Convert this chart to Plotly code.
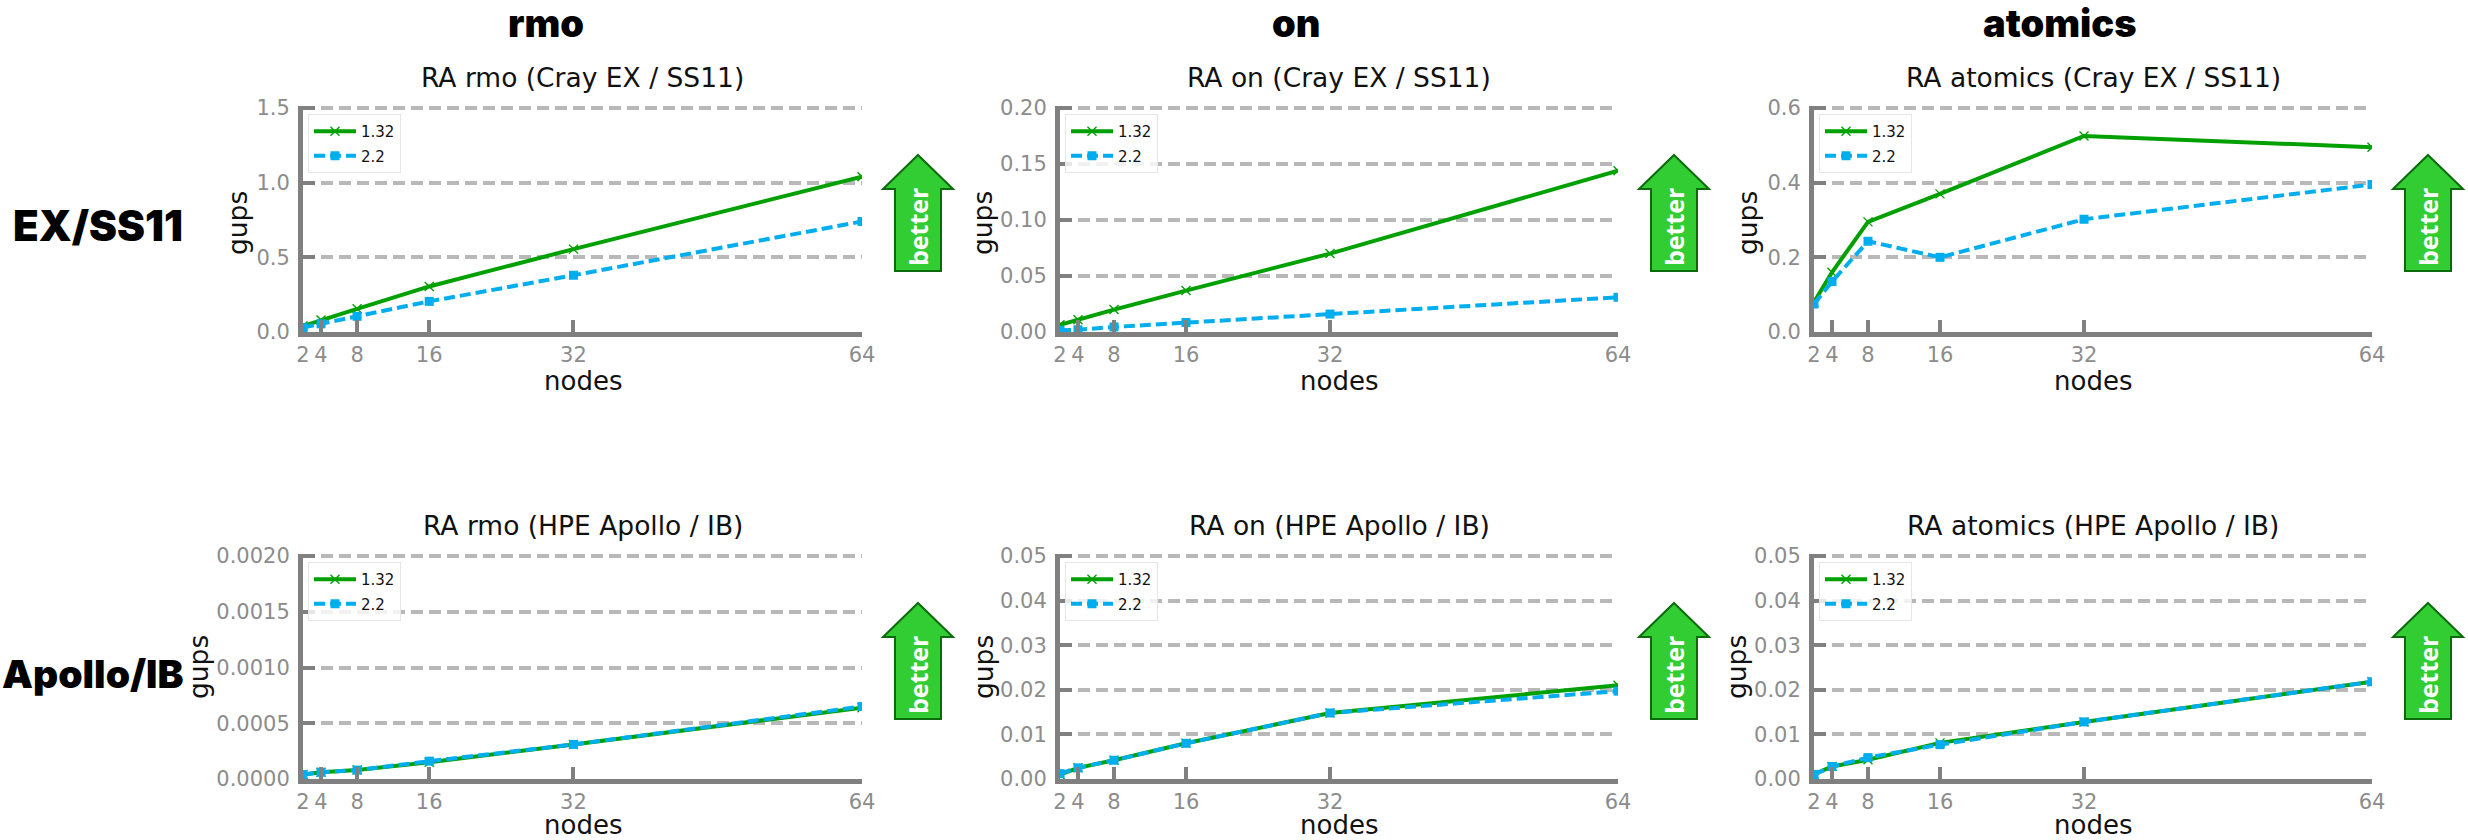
import plotly.graph_objects as go

W, H = 2468, 840
nodes = [2, 4, 8, 16, 32, 64]
version_a = "1.32"
version_b = "2.2"

ex_rmo_a = [0.04, 0.08, 0.155, 0.305, 0.555, 1.04]
ex_rmo_b = [0.03, 0.055, 0.105, 0.205, 0.38, 0.74]
ex_on_a = [0.0065, 0.011, 0.020, 0.037, 0.070, 0.144]
ex_on_b = [0.0015, 0.002, 0.0045, 0.0085, 0.016, 0.031]
ex_at_a = [0.08, 0.16, 0.295, 0.37, 0.525, 0.495]
ex_at_b = [0.075, 0.135, 0.243, 0.20, 0.302, 0.395]
ap_rmo_a = [0.00004, 0.00006, 0.00008, 0.00015, 0.00031, 0.00064]
ap_rmo_b = [0.00004, 0.00006, 0.00008, 0.00016, 0.00031, 0.00065]
ap_on_a = [0.001, 0.0025, 0.0042, 0.008, 0.0148, 0.021]
ap_on_b = [0.0012, 0.0025, 0.0042, 0.008, 0.0148, 0.0197]
ap_at_a = [0.001, 0.0028, 0.0043, 0.0081, 0.0128, 0.0218]
ap_at_b = [0.001, 0.0028, 0.0048, 0.0077, 0.0128, 0.0218]

titles = ["RA rmo (Cray EX / SS11)", "RA on (Cray EX / SS11)", "RA atomics (Cray EX / SS11)",
          "RA rmo (HPE Apollo / IB)", "RA on (HPE Apollo / IB)", "RA atomics (HPE Apollo / IB)"]
series = [(ex_rmo_a, ex_rmo_b), (ex_on_a, ex_on_b), (ex_at_a, ex_at_b),
          (ap_rmo_a, ap_rmo_b), (ap_on_a, ap_on_b), (ap_at_a, ap_at_b)]
yticks = [[0, 0.5, 1.0, 1.5], [0, 0.05, 0.10, 0.15, 0.20], [0, 0.2, 0.4, 0.6],
          [0, 0.0005, 0.0010, 0.0015, 0.0020], [0, 0.01, 0.02, 0.03, 0.04, 0.05], [0, 0.01, 0.02, 0.03, 0.04, 0.05]]
yfmt = [".1f", ".2f", ".1f", ".4f", ".2f", ".2f"]
col_heads = ["rmo", "on", "atomics"]
row_heads = ["EX/SS11", "Apollo/IB"]

# layout, pixels
col_l = [303, 1060, 1814]
col_r = [862, 1618, 2372]
row_t = [108, 556]
row_b = [332, 779]
gups_x = [238, 983, 1748, 198, 983, 1736]
gups_y = [223, 667]
nodes_y = [381, 824.5]
EXTRA = 2  # px of headroom so the top gridline is not dropped at the range edge

GREEN = "#00A000"
BLUE = "#00AEEF"
GREY = "#808080"
FONT = "DejaVu Sans"
HEAVY = "Inter"

px = lambda v: v / W
py = lambda v: 1 - v / H

fig = go.Figure()
annotations, shapes = [], []
layout = {}


def label(text, x, y, size, family=FONT, color="#111111", angle=0, weight=None):
    font = dict(family=family, size=size, color=color)
    if weight:
        font["weight"] = weight
    annotations.append(dict(
        text=text, xref="paper", yref="paper", x=x, y=y, textangle=angle,
        xanchor="center", yanchor="middle", showarrow=False, font=font,
    ))


for i in range(6):
    r, c = i // 3, i % 3
    n = "" if i == 0 else str(i + 1)
    a, b = series[i]
    fig.add_trace(go.Scatter(
        x=nodes, y=a, name=version_a, xaxis="x" + n, yaxis="y" + n, legend="legend" + n,
        legendgroup="a", mode="lines+markers",
        line=dict(color=GREEN, width=4),
        marker=dict(symbol="x-thin", size=9, color=GREEN, line=dict(color=GREEN, width=1.4)),
    ))
    fig.add_trace(go.Scatter(
        x=nodes, y=b, name=version_b, xaxis="x" + n, yaxis="y" + n, legend="legend" + n,
        legendgroup="b", mode="lines+markers",
        line=dict(color=BLUE, width=4, dash="11px,5px"),
        marker=dict(symbol="square", size=9, color=BLUE),
    ))
    layout["xaxis" + n] = dict(
        domain=[px(col_l[c]), px(col_r[c])], anchor="y" + n, range=[2, 64], automargin=False,
        tickmode="array", tickvals=nodes, ticktext=[str(v) for v in nodes], tickangle=0,
        ticks="inside", ticklen=12, tickwidth=4, tickcolor=GREY,
        showline=True, linewidth=5, linecolor=GREY, showgrid=False, zeroline=False,
        tickfont=dict(family=FONT, size=21, color="#8C8C8C"),
    )
    h = row_b[r] - row_t[r]
    layout["yaxis" + n] = dict(
        domain=[py(row_b[r]), py(row_t[r] - EXTRA)], anchor="x" + n, automargin=False,
        range=[0, yticks[i][-1] * (h + EXTRA) / h],
        tickmode="array", tickvals=yticks[i], tickformat=yfmt[i],
        ticks="inside", ticklen=12, tickwidth=4, tickcolor=GREY,
        showline=True, linewidth=5, linecolor=GREY,
        showgrid=True, gridcolor="#B8B8B8", gridwidth=4, griddash="12px,6px", zeroline=False,
        tickfont=dict(family=FONT, size=21, color="#8C8C8C"),
        ticklabelstandoff=4,
    )
    layout["legend" + n] = dict(
        x=px(col_l[c] + 5), y=py(row_t[r] + 6), xanchor="left", yanchor="top",
        bgcolor="rgba(255,255,255,0.8)", bordercolor="#E6E6E6", borderwidth=1,
        font=dict(family=FONT, size=15, color="#111111"),
        itemwidth=42, tracegroupgap=2,
    )
    centre = (col_l[c] + col_r[c]) / 2
    label(titles[i], px(centre), py(row_t[r] - 31), 26.5)
    label("nodes", px(centre), py(nodes_y[r]), 26)
    label("gups", px(gups_x[i]), py(gups_y[r]), 26.5, angle=-90)
    # "better" arrow
    cx = col_r[c] + 56
    top = row_t[r] + 47
    X = lambda d: px(cx + d)
    Y = lambda d: py(top + d)
    shapes.append(dict(
        type="path", xref="paper", yref="paper",
        path=(f"M {X(0)} {Y(0)} L {X(35)} {Y(34)} L {X(23)} {Y(34)} L {X(23)} {Y(116)} "
              f"L {X(-23)} {Y(116)} L {X(-23)} {Y(34)} L {X(-35)} {Y(34)} Z"),
        fillcolor="#32CD32", line=dict(color="#0B6B0B", width=2),
    ))
    label("<b>better</b>", X(0), Y(72), 25, family="Open Sans", color="white", angle=-90)

for c, t in enumerate(col_heads):
    label(t, px([546, 1296, 2060][c]), py(23), 38, family=HEAVY, color="black", weight=900)
for r, t in enumerate(row_heads):
    label(t, px([98, 92][r]), py([226, 673][r]), [42, 39][r], family=HEAVY, color="black", weight=900)

fig.update_layout(
    width=W, height=H, margin=dict(l=0, r=0, t=0, b=0),
    paper_bgcolor="white", plot_bgcolor="white", showlegend=True,
    annotations=annotations, shapes=shapes, **layout,
)
fig.write_html("out.html", config={"displayModeBar": False},
               post_script="document.body.style.margin='0';document.body.style.overflow='hidden';")
